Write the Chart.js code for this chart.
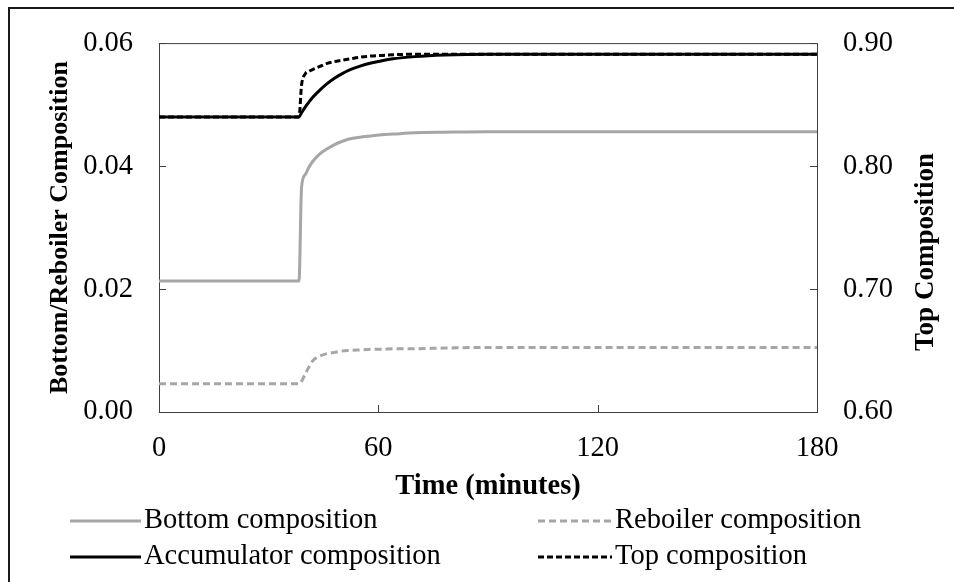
<!DOCTYPE html>
<html>
<head>
<meta charset="utf-8">
<title>Composition response</title>
<script src="https://cdn.jsdelivr.net/npm/chart.js@4.4.1/dist/chart.umd.min.js"></script>
<style>
  html, body { margin: 0; padding: 0; background: #fff; }
  #wrap { position: relative; width: 954px; height: 582px; overflow: hidden; }
  #frame { position: absolute; left: 8px; top: 7px; width: 960px; height: 600px;
           border: 2px solid #1a1a1a; pointer-events: none; }
  canvas { position: absolute; left: 0; top: 0; }
</style>
</head>
<body>
<div id="wrap">
  <canvas id="compChart" width="954" height="582"></canvas>
  <div id="frame"></div>
</div>
<script>
// time after start of run, minutes
const minutes = [0, 38.3, 39, 40, 41, 42, 44, 46, 48, 50, 52, 55, 58, 61, 64, 70, 78, 90, 120, 150, 180];

// left axis series
const bottomComp = [0.0213, 0.0213, 0.0366, 0.0386, 0.0398, 0.0407, 0.0420, 0.0428, 0.0435, 0.0440, 0.0444,
                    0.0447, 0.0449, 0.0451, 0.0452, 0.0454, 0.0455, 0.0456, 0.0456, 0.0456, 0.0456];
const reboilerComp = [0.0046, 0.0046, 0.0050, 0.0062, 0.0073, 0.0083, 0.0091, 0.0095, 0.0097, 0.0099, 0.0100,
                      0.0101, 0.0102, 0.0102, 0.0103, 0.0103, 0.0104, 0.0105, 0.0105, 0.0105, 0.0105];

// right axis series
const accumComp = [0.840, 0.840, 0.8434, 0.848, 0.852, 0.8557, 0.8618, 0.867, 0.8714, 0.875, 0.878,
                   0.8813, 0.8838, 0.8857, 0.8872, 0.889, 0.8903, 0.891, 0.891, 0.891, 0.891];
const topComp = [0.840, 0.840, 0.866, 0.875, 0.877, 0.8785, 0.881, 0.8835, 0.885, 0.886, 0.887,
                 0.8885, 0.8895, 0.890, 0.8905, 0.891, 0.891, 0.891, 0.891, 0.891, 0.891];

const xTicks = [0, 60, 120, 180];
const leftTicks = [0, 0.02, 0.04, 0.06];
const rightTicks = [0.6, 0.7, 0.8, 0.9];

const seriesNames = ['Bottom composition', 'Reboiler composition', 'Accumulator composition', 'Top composition'];

const FONT = "'Liberation Serif', 'Times New Roman', serif";
const TXT = 28.5;
const GREY = '#a6a6a6';

function pairs(ys) {
  return minutes.map((t, i) => ({ x: t, y: ys[i] }));
}

// plot box plus inward tick marks
const boxTicks = {
  id: 'boxTicks',
  beforeDatasetsDraw(chart) {
    const { ctx, chartArea: a, scales } = chart;
    const len = 7;
    ctx.save();
    ctx.strokeStyle = '#404040';
    ctx.lineWidth = 1;
    ctx.strokeRect(a.left + 0.5, a.top + 0.5, a.right - a.left, a.bottom - a.top);
    ctx.beginPath();
    xTicks.forEach(v => {
      const px = Math.round(scales.x.getPixelForValue(v)) + 0.5;
      ctx.moveTo(px, a.bottom);
      ctx.lineTo(px, a.bottom - len);
    });
    leftTicks.forEach(v => {
      const py = Math.round(scales.y.getPixelForValue(v)) + 0.5;
      ctx.moveTo(a.left, py);
      ctx.lineTo(a.left + len, py);
    });
    rightTicks.forEach(v => {
      const py = Math.round(scales.y1.getPixelForValue(v)) + 0.5;
      ctx.moveTo(a.right, py);
      ctx.lineTo(a.right - len, py);
    });
    ctx.stroke();
    ctx.restore();
  },
  afterDraw(chart) {
    const { ctx } = chart;
    ctx.save();
    // right axis title, reading upwards
    ctx.fillStyle = '#000';
    ctx.font = 'bold 27px ' + FONT;
    ctx.textAlign = 'center';
    ctx.textBaseline = 'middle';
    ctx.translate(926, 252);
    ctx.rotate(-Math.PI / 2);
    ctx.fillText('Top Composition', 0, 0);
    ctx.restore();

    // legend, two columns
    ctx.save();
    ctx.font = TXT + 'px ' + FONT;
    ctx.textBaseline = 'middle';
    ctx.textAlign = 'left';
    ctx.fillStyle = '#000';
    chart.data.datasets.forEach((ds, i) => {
      const col = i % 2, row = Math.floor(i / 2);
      const x0 = col === 0 ? 70 : 538;
      const x1 = col === 0 ? 141 : 612;
      const y = row === 0 ? 521 : 557;
      ctx.beginPath();
      ctx.strokeStyle = ds.borderColor;
      ctx.lineWidth = 3;
      ctx.setLineDash(ds.borderDash || []);
      ctx.moveTo(x0, y);
      ctx.lineTo(x1, y);
      ctx.stroke();
      ctx.setLineDash([]);
      ctx.fillText(ds.label, x1 + 3, y);
    });
    ctx.restore();
  }
};

const ctx = document.getElementById('compChart').getContext('2d');
new Chart(ctx, {
  type: 'line',
  data: {
    datasets: [
      { label: seriesNames[0], data: pairs(bottomComp), yAxisID: 'y',
        borderColor: GREY, borderWidth: 3 },
      { label: seriesNames[1], data: pairs(reboilerComp), yAxisID: 'y',
        borderColor: GREY, borderWidth: 3, borderDash: [7, 4] },
      { label: seriesNames[2], data: pairs(accumComp), yAxisID: 'y1',
        borderColor: '#000', borderWidth: 3 },
      { label: seriesNames[3], data: pairs(topComp), yAxisID: 'y1',
        borderColor: '#000', borderWidth: 3, borderDash: [6, 3] }
    ]
  },
  options: {
    responsive: false,
    animation: false,
    events: [],
    elements: {
      point: { radius: 0 },
      line: { cubicInterpolationMode: 'monotone', fill: false }
    },
    layout: { padding: { top: 38, bottom: 75, left: 0, right: 0 } },
    plugins: {
      legend: { display: false },
      tooltip: { enabled: false }
    },
    scales: {
      x: {
        type: 'linear', min: 0, max: 180,
        afterFit(s) { s.height = 95; },
        afterBuildTicks(s) { s.ticks = xTicks.map(v => ({ value: v })); },
        grid: { display: false, drawTicks: false },
        border: { display: false },
        ticks: { padding: 19, color: '#000', font: { family: FONT, size: TXT } },
        title: { display: true, text: 'Time (minutes)', color: '#000',
                 padding: { top: 0, bottom: 3 },
                 font: { family: FONT, size: TXT, weight: 'bold' } }
      },
      y: {
        position: 'left', min: 0, max: 0.06,
        afterFit(s) { s.width = 159; },
        afterBuildTicks(s) { s.ticks = leftTicks.map(v => ({ value: v })); },
        grid: { display: false, drawTicks: false },
        border: { display: false },
        ticks: { padding: 26, color: '#000', font: { family: FONT, size: TXT },
                 callback: v => v.toFixed(2) },
        title: { display: true, text: 'Bottom/Reboiler Composition', color: '#000',
                 padding: { top: 45, bottom: 0 },
                 font: { family: FONT, size: 26, weight: 'bold' } }
      },
      y1: {
        position: 'right', min: 0.6, max: 0.9,
        afterFit(s) { s.width = 137; },
        afterBuildTicks(s) { s.ticks = rightTicks.map(v => ({ value: v })); },
        grid: { display: false, drawTicks: false },
        border: { display: false },
        ticks: { padding: 26, color: '#000', font: { family: FONT, size: TXT },
                 callback: v => v.toFixed(2) }
      }
    }
  },
  plugins: [boxTicks]
});
</script>
</body>
</html>
